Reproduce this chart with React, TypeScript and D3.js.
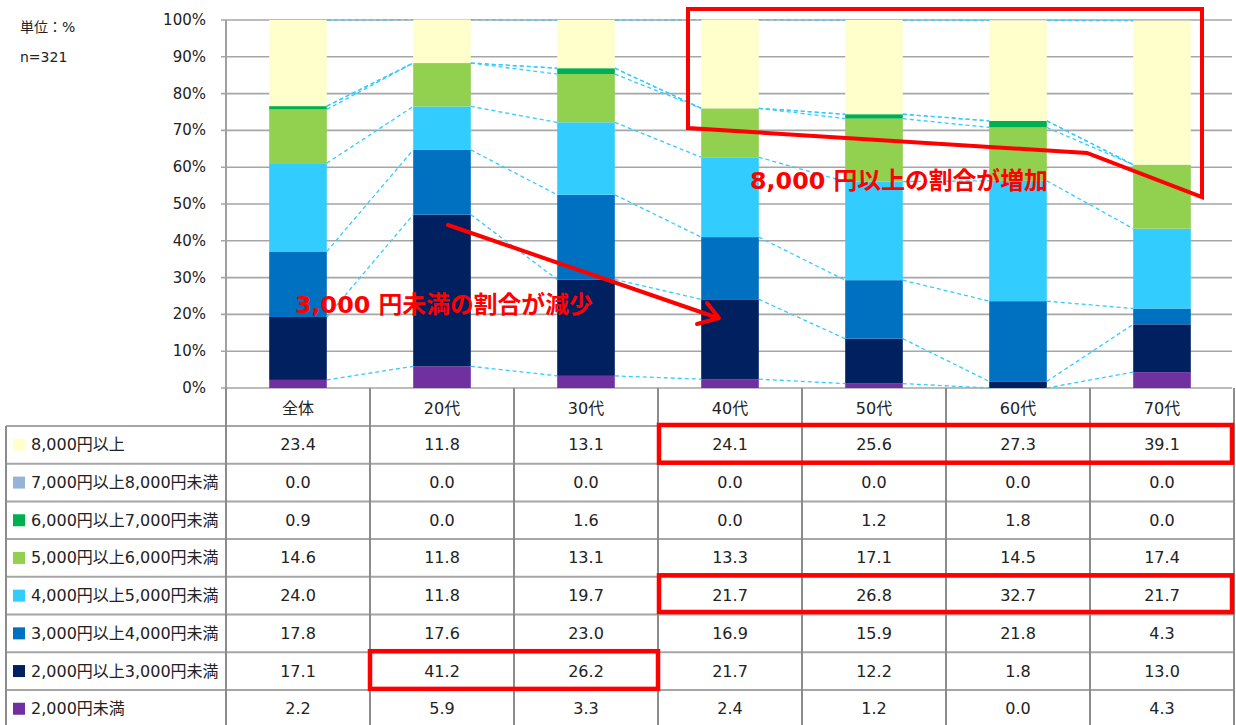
import React from 'react';
import * as d3 from 'd3';

const categories = ['全体', '20代', '30代', '40代', '50代', '60代', '70代'];
const seriesNames = [
  '8,000円以上',
  '7,000円以上8,000円未満',
  '6,000円以上7,000円未満',
  '5,000円以上6,000円未満',
  '4,000円以上5,000円未満',
  '3,000円以上4,000円未満',
  '2,000円以上3,000円未満',
  '2,000円未満',
];
const seriesColors = ['#FFFFCC', '#95B3D7', '#00B050', '#92D050', '#33CCFF', '#0070C0', '#002060', '#7030A0'];

const s8000 = [23.4, 11.8, 13.1, 24.1, 25.6, 27.3, 39.1];
const s7000 = [0.0, 0.0, 0.0, 0.0, 0.0, 0.0, 0.0];
const s6000 = [0.9, 0.0, 1.6, 0.0, 1.2, 1.8, 0.0];
const s5000 = [14.6, 11.8, 13.1, 13.3, 17.1, 14.5, 17.4];
const s4000 = [24.0, 11.8, 19.7, 21.7, 26.8, 32.7, 21.7];
const s3000 = [17.8, 17.6, 23.0, 16.9, 15.9, 21.8, 4.3];
const s2000 = [17.1, 41.2, 26.2, 21.7, 12.2, 1.8, 13.0];
const sUnder = [2.2, 5.9, 3.3, 2.4, 1.2, 0.0, 4.3];
const seriesValues = [s8000, s7000, s6000, s5000, s4000, s3000, s2000, sUnder];

const yTicks = [0, 10, 20, 30, 40, 50, 60, 70, 80, 90, 100];
const unitLabel = '単位：%';
const nLabel = 'n=321';
const noteIncrease = '8,000 円以上の割合が増加';
const noteDecrease = '3,000 円未満の割合が減少';

const FONT = "'DejaVu Sans', 'Noto Sans CJK JP', sans-serif";
const RED = '#FF0000';

export default function App() {
  const W = 1236;
  const H = 725;
  const plotLeft = 226;
  const plotRight = 1234;
  const yTop = 20;
  const yBottom = 388;
  const tableLeft = 6;
  const headerBottom = 426;
  const rowH = 37.7;

  const x = d3.scaleBand<string>().domain(categories).range([plotLeft, plotRight]).paddingInner(0).paddingOuter(0);
  const y = d3.scaleLinear().domain([0, 100]).range([yBottom, yTop]);
  const bw = x.bandwidth() * 0.4;

  const keysBottomUp = seriesNames.slice().reverse();
  const rows = categories.map((c, i) => {
    const o: any = { cat: c };
    seriesNames.forEach((s, k) => (o[s] = seriesValues[k][i]));
    return o;
  });
  const stacked = d3.stack<any>().keys(keysBottomUp)(rows);
  const colorOf = (name: string) => seriesColors[seriesNames.indexOf(name)];

  const cx = (c: string) => (x(c) as number) + x.bandwidth() / 2;
  const rowTop = (r: number) => headerBottom + r * rowH;

  const colEdges = categories.map((c) => x(c) as number).concat([plotRight]);

  return (
    <svg width={W} height={H} style={{ position: 'absolute', left: 0, top: 0, background: '#fff' }} fontFamily={FONT}>
      <rect x={0} y={0} width={W} height={H} fill="#fff" />
      <text x={20} y={27} fontSize={14} fill="#222" dominantBaseline="central">{unitLabel}</text>
      <text x={20} y={57} fontSize={14} fill="#222" dominantBaseline="central">{nLabel}</text>

      {yTicks.map((t) => (
        <g key={t}>
          <line x1={plotLeft - 5} x2={plotRight - 2} y1={y(t)} y2={y(t)} stroke="#A6A6A6" strokeWidth={1.6} />
          <text x={206} y={y(t)} fontSize={15} fill="#222" textAnchor="end" dominantBaseline="central">{t}%</text>
        </g>
      ))}

      {stacked.map((layer) => (
        <g key={layer.key} fill={colorOf(layer.key)}>
          {layer.map((d, i) => (
            <rect key={i} x={cx(categories[i]) - bw / 2} y={y(d[1])} width={bw} height={Math.max(0, y(d[0]) - y(d[1]))} />
          ))}
        </g>
      ))}

      {stacked.map((layer) => (
        <g key={'sl' + layer.key}>
          {layer.slice(0, -1).map((d, i) => {
            const n = layer[i + 1];
            return (
              <line
                key={i}
                x1={cx(categories[i]) + bw / 2}
                y1={y(d[1])}
                x2={cx(categories[i + 1]) - bw / 2}
                y2={y(n[1])}
                stroke="#33CCFF"
                strokeWidth={1.3}
                strokeDasharray="4 3"
              />
            );
          })}
        </g>
      ))}

      <line x1={plotLeft} x2={plotLeft} y1={yTop} y2={H} stroke="#A0A0A0" strokeWidth={2} />

      <g>
        {d3.range(0, 9).map((r) => (
          <line key={'h' + r} x1={tableLeft} x2={plotRight} y1={rowTop(r)} y2={rowTop(r)} stroke="#A6A6A6" strokeWidth={2} />
        ))}
        <line x1={tableLeft} x2={tableLeft} y1={headerBottom} y2={H} stroke="#8C8C8C" strokeWidth={2} />
        {colEdges.map((e, i) => (
          <line key={'v' + i} x1={e} x2={e} y1={yBottom} y2={H} stroke="#8C8C8C" strokeWidth={2} />
        ))}
        {categories.map((c) => (
          <text key={'hd' + c} x={cx(c)} y={(yBottom + headerBottom) / 2 + 1} fontSize={16} fill="#222" textAnchor="middle" dominantBaseline="central">{c}</text>
        ))}
        {seriesNames.map((s, r) => (
          <g key={'r' + s}>
            <rect x={13} y={rowTop(r) + rowH / 2 - 6} width={12} height={12} fill={seriesColors[r]} />
            <text x={31} y={rowTop(r) + rowH / 2} fontSize={16} fill="#222" dominantBaseline="central">{s}</text>
            {categories.map((c, i) => (
              <text key={c} x={cx(c)} y={rowTop(r) + rowH / 2} fontSize={16} fill="#222" textAnchor="middle" dominantBaseline="central">
                {seriesValues[r][i].toFixed(1)}
              </text>
            ))}
          </g>
        ))}
      </g>

      <rect x={colEdges[3] + 1} y={rowTop(0) - 1} width={colEdges[7] - colEdges[3] - 3} height={rowH} fill="none" stroke={RED} strokeWidth={4.5} />
      <rect x={colEdges[3] + 1} y={rowTop(4) - 1.5} width={colEdges[7] - colEdges[3] - 3} height={rowH - 1} fill="none" stroke={RED} strokeWidth={4.5} />
      <rect x={colEdges[1]} y={rowTop(6) - 1} width={colEdges[3] - colEdges[1]} height={rowH} fill="none" stroke={RED} strokeWidth={4.5} />

      <polygon points="688,9 1202,9 1202,197 1087,153 688,128" fill="none" stroke={RED} strokeWidth={4} strokeLinejoin="miter" />
      <text x={750} y={181} fontSize={23.8} fontWeight="bold" fill={RED} dominantBaseline="central">{noteIncrease}</text>

      <line x1={448} y1={225} x2={718} y2={318} stroke={RED} strokeWidth={4} strokeLinecap="round" />
      <polyline points="707,303 719,318 697,324" fill="none" stroke={RED} strokeWidth={4} strokeLinecap="round" strokeLinejoin="round" />
      <text x={295} y={305} fontSize={23.8} fontWeight="bold" fill={RED} dominantBaseline="central">{noteDecrease}</text>
    </svg>
  );
}
